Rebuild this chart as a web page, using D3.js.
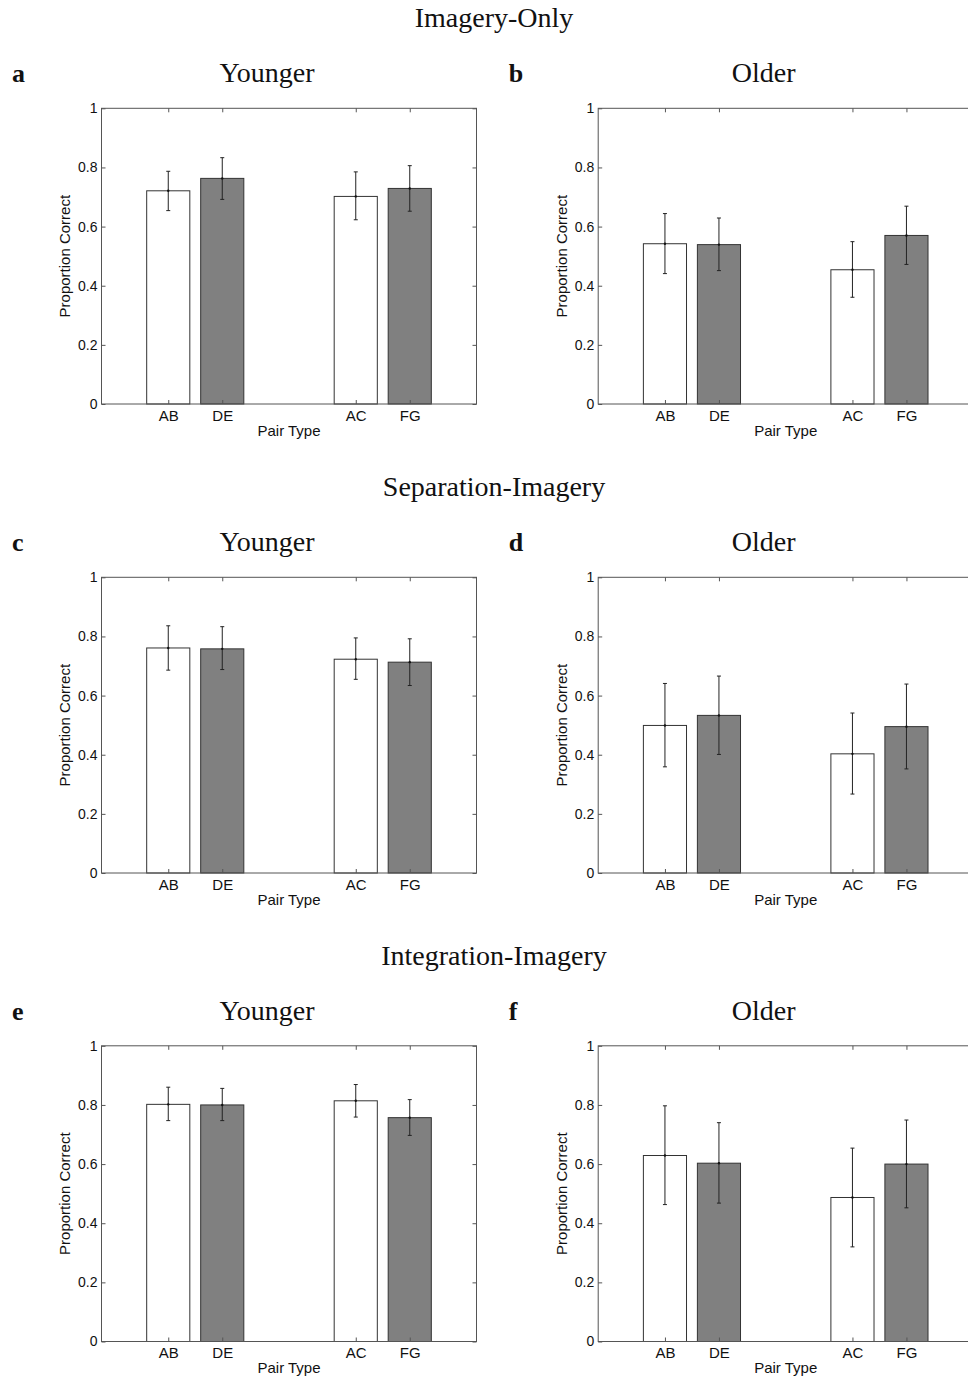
<!DOCTYPE html>
<html><head><meta charset="utf-8">
<script src="https://cdn.jsdelivr.net/npm/d3@7"></script>
<style>body{margin:0;background:#fff}</style>
</head><body>
<script>
// ---------- data ----------
const conditions = ["Imagery-Only", "Separation-Imagery", "Integration-Imagery"];
const groups = ["Younger", "Older"];
const panelLetters = ["a", "b", "c", "d", "e", "f"];
const pairTypes = ["AB", "DE", "AC", "FG"];
const yTicks = [0, 0.2, 0.4, 0.6, 0.8, 1];
const xLabel = "Pair Type";
const yLabel = "Proportion Correct";

// means, lower and upper error-bar ends for each panel (AB, DE, AC, FG)
const panelA_mean = [0.721, 0.763, 0.702, 0.729];
const panelA_lo   = [0.654, 0.692, 0.623, 0.652];
const panelA_hi   = [0.787, 0.833, 0.785, 0.806];

const panelB_mean = [0.542, 0.539, 0.454, 0.570];
const panelB_lo   = [0.441, 0.451, 0.361, 0.472];
const panelB_hi   = [0.644, 0.629, 0.549, 0.669];

const panelC_mean = [0.761, 0.758, 0.723, 0.713];
const panelC_lo   = [0.686, 0.688, 0.655, 0.634];
const panelC_hi   = [0.836, 0.833, 0.795, 0.792];

const panelD_mean = [0.499, 0.533, 0.403, 0.495];
const panelD_lo   = [0.359, 0.401, 0.267, 0.352];
const panelD_hi   = [0.641, 0.666, 0.541, 0.639];

const panelE_mean = [0.802, 0.800, 0.814, 0.757];
const panelE_lo   = [0.747, 0.747, 0.759, 0.697];
const panelE_hi   = [0.860, 0.856, 0.869, 0.818];

const panelF_mean = [0.629, 0.603, 0.487, 0.600];
const panelF_lo   = [0.463, 0.468, 0.320, 0.452];
const panelF_hi   = [0.797, 0.740, 0.654, 0.749];

const panels = [
  {mean: panelA_mean, lo: panelA_lo, hi: panelA_hi},
  {mean: panelB_mean, lo: panelB_lo, hi: panelB_hi},
  {mean: panelC_mean, lo: panelC_lo, hi: panelC_hi},
  {mean: panelD_mean, lo: panelD_lo, hi: panelD_hi},
  {mean: panelE_mean, lo: panelE_lo, hi: panelE_hi},
  {mean: panelF_mean, lo: panelF_lo, hi: panelF_hi}
];

// ---------- layout ----------
const W = 375, H = 295.7;
const colX = [101.5, 598.2];
const rowY = [108.3, 577.3, 1045.8];
const rowStep = 469;
const serif = "'Liberation Serif', 'DejaVu Serif', serif";
const sans = "'Liberation Sans', Arial, Helvetica, sans-serif";
const axisColor = "#555";

const svg = d3.select("body").append("svg")
  .attr("width", 968).attr("height", 1377);

// group scale: groups at 1 and 2, x-limits [0.5, 2.5]
const xg = d3.scaleLinear().domain([0.5, 2.5]).range([0, W]);
const unit = xg(1) - xg(0);
const offset = 0.144 * unit, barW = 0.23 * unit;
const centers = pairTypes.map((p, i) => xg(Math.floor(i / 2) + 1) + (i % 2 === 0 ? -offset : offset));
const x = d3.scaleOrdinal().domain(pairTypes).range(centers);
const y = d3.scaleLinear().domain([0, 1]).range([H, 0]);

// condition titles
conditions.forEach((c, r) => {
  svg.append("text").attr("x", 494).attr("y", 27 + r * rowStep)
    .attr("text-anchor", "middle").attr("font-family", serif)
    .attr("font-size", 28).attr("fill", "#111").text(c);
});

panels.forEach((pd, k) => {
  const r = Math.floor(k / 2), c = k % 2;
  const g = svg.append("g").attr("transform", `translate(${colX[c]},${rowY[r]})`);

  // panel letter and group title
  g.append("text").attr("x", -89.5).attr("y", -26).attr("font-family", serif)
    .attr("font-weight", "bold").attr("font-size", 26).attr("fill", "#111")
    .text(panelLetters[k]);
  g.append("text").attr("x", 165.5).attr("y", -26).attr("text-anchor", "middle")
    .attr("font-family", serif).attr("font-size", 28).attr("fill", "#111")
    .text(groups[c]);

  // bars
  const data = pairTypes.map((p, i) => ({p, i, m: pd.mean[i], lo: pd.lo[i], hi: pd.hi[i]}));
  g.selectAll("rect.bar").data(data).enter().append("rect")
    .attr("class", "bar")
    .attr("x", d => x(d.p) - barW / 2)
    .attr("width", barW)
    .attr("y", d => y(d.m))
    .attr("height", d => y(0) - y(d.m))
    .attr("fill", d => d.i % 2 === 0 ? "#fff" : "#808080")
    .attr("stroke", "#333").attr("stroke-width", 1);

  // error bars
  const eb = g.selectAll("g.eb").data(data).enter().append("g").attr("class", "eb")
    .attr("stroke", "#222").attr("stroke-width", 1);
  eb.append("line").attr("x1", d => x(d.p)).attr("x2", d => x(d.p))
    .attr("y1", d => y(d.lo)).attr("y2", d => y(d.hi));
  eb.append("line").attr("x1", d => x(d.p) - 2).attr("x2", d => x(d.p) + 2)
    .attr("y1", d => y(d.lo)).attr("y2", d => y(d.lo));
  eb.append("line").attr("x1", d => x(d.p) - 2).attr("x2", d => x(d.p) + 2)
    .attr("y1", d => y(d.hi)).attr("y2", d => y(d.hi));
  g.selectAll("circle.mk").data(data).enter().append("circle")
    .attr("cx", d => x(d.p)).attr("cy", d => y(d.m)).attr("r", 1.2).attr("fill", "#111");

  // axes (inward ticks, box)
  const styleAxis = (sel, fs) => {
    sel.select(".domain").remove();
    sel.selectAll(".tick line").attr("stroke", axisColor);
    sel.selectAll(".tick text").attr("font-family", sans).attr("font-size", fs).attr("fill", "#111");
  };
  g.append("g").call(d3.axisLeft(y).tickValues(yTicks).tickSize(-4).tickPadding(4).tickFormat(d => String(d))).call(styleAxis, 14);
  g.append("g").attr("transform", `translate(${W},0)`)
    .call(d3.axisRight(y).tickValues(yTicks).tickSize(-4).tickFormat("")).call(styleAxis, 14);
  g.append("g").attr("transform", `translate(0,${H})`)
    .call(d3.axisBottom(x).tickSize(-4).tickPadding(6)).call(styleAxis, 15);
  g.append("g")
    .call(d3.axisTop(x).tickSize(-4).tickFormat("")).call(styleAxis, 14);
  g.append("rect").attr("x", 0).attr("y", 0).attr("width", W).attr("height", H)
    .attr("fill", "none").attr("stroke", axisColor).attr("stroke-width", 1);

  // axis labels
  g.append("text").attr("x", W / 2).attr("y", H + 32).attr("text-anchor", "middle")
    .attr("font-family", sans).attr("font-size", 15).attr("fill", "#111").text(xLabel);
  g.append("text").attr("transform", `translate(-31.5,${H / 2}) rotate(-90)`)
    .attr("text-anchor", "middle").attr("font-family", sans).attr("font-size", 15)
    .attr("fill", "#111").text(yLabel);
});
</script>
</body></html>
